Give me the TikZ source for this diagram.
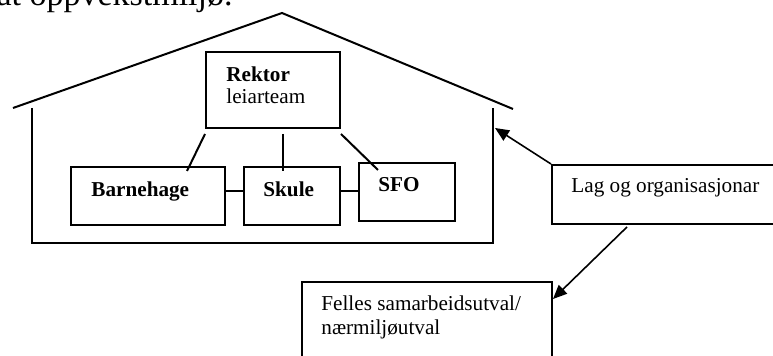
\documentclass[tikz,border=0pt]{standalone}
\usepackage{fontspec}
\setmainfont{Liberation Serif}
\usetikzlibrary{calc,arrows.meta}
\begin{document}
\begin{tikzpicture}[x=0.5pt,y=-0.5pt,
  box/.style={draw,line width=1pt,rectangle,inner sep=0pt,anchor=north west},
  txt/.style={inner sep=0pt,anchor=base west,font=\fontsize{10.6}{12}\selectfont},
  btxt/.style={txt,font=\fontsize{10.6}{12}\selectfont\bfseries},
  wall/.style={line width=1pt},
  link/.style={line width=1pt},
  arr/.style={line width=0.8pt,-{Triangle[length=7pt,width=6pt]}}]
\useasboundingbox (0,0) rectangle (773,356);
% heading text, cut by the top edge
\node[inner sep=0pt,anchor=base east,font=\fontsize{17}{20}\selectfont] (head) at (233,6) {at oppvekstmiljø.};
% house
\draw[wall] (13,108) -- (282,13) -- (513,109);
\draw[wall] (32,108) -- (32,243) -- (493,243) -- (493,108);
\coordinate (wallpt) at (495,128);
% boxes
\node[box,minimum width=67pt,minimum height=38pt] (rektor) at (205,51) {};
\node[box,minimum width=77pt,minimum height=29pt] (barn) at (70,166) {};
\node[box,minimum width=48pt,minimum height=29pt] (skule) at (243,166) {};
\node[box,minimum width=48pt,minimum height=29pt] (sfo) at (358,162) {};
\node[box,minimum width=170pt,minimum height=29.5pt] (lag) at (551,164) {};
\node[box,minimum width=125pt,minimum height=60pt] (felles) at (301,281) {};
% texts
\node[btxt] (rektorA) at (226,82) {Rektor};
\node[txt] (rektorB) at (226,104) {leiarteam};
\node[btxt] (barnT) at (91,197) {Barnehage};
\node[btxt] (skuleT) at (263,197) {Skule};
\node[btxt] (sfoT) at (378,192) {SFO};
\node[txt] (lagT) at (571,193) {Lag og organisasjonar};
\node[txt] (fellesA) at (321,311) {Felles samarbeidsutval/};
\node[txt] (fellesB) at (321,335) {nærmiljøutval};
% connectors
\draw[link] ($(rektor.south west)+(0,5)$) -- ($(barn.north)+(39,5)$);
\draw[link] ($(rektor.south)+(10,5)$) -- ($(skule.north)+(-9,5)$);
\draw[link] ($(rektor.south east)+(0,5)$) -- ($(sfo.north west)+(20,8)$);
\draw[link] ($(barn.east)+(0,-5)$) -- ($(skule.west)+(0,-5)$);
\draw[link] ($(skule.east)+(0,-5)$) -- ($(sfo.west)+(0,-1)$);
\draw[arr] (lag.north west) -- (wallpt);
\draw[arr] ($(lag.south west)+(76,2)$) -- ($(felles.north east)+(0,18)$);
\end{tikzpicture}
\end{document}
